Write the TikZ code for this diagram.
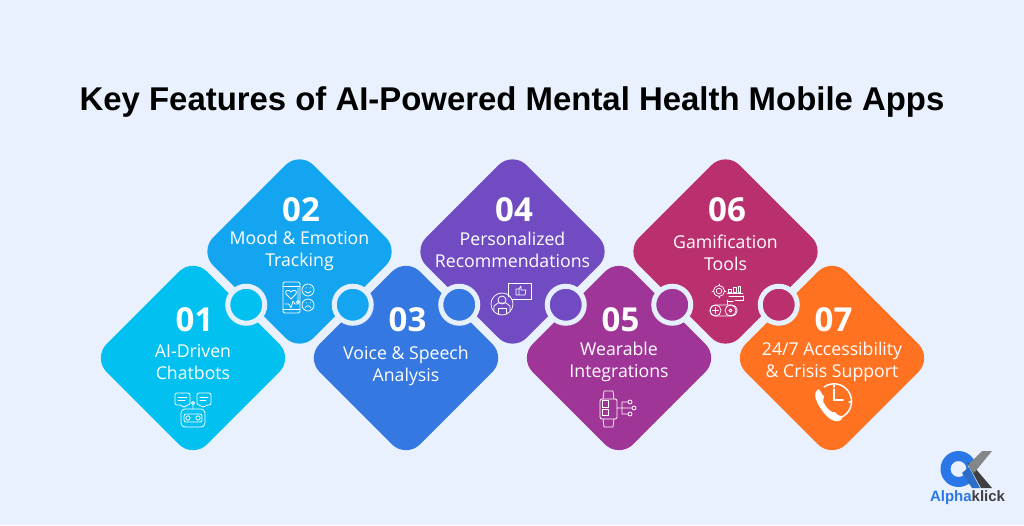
\documentclass[tikz,border=0pt]{standalone}
\usepackage{fontspec}
\setmainfont{Open Sans}
\newfontfamily\titlefont{Liberation Sans}
\usetikzlibrary{positioning, shapes.geometric}
\definecolor{pagebg}{HTML}{E9F1FE}
\definecolor{ringcol}{HTML}{E6EFFC}
\definecolor{cone}{HTML}{02C1F0}
\definecolor{ctwo}{HTML}{14A5F1}
\definecolor{cthree}{HTML}{3678E2}
\definecolor{cfour}{HTML}{704BC2}
\definecolor{cfive}{HTML}{A03598}
\definecolor{csix}{HTML}{BA2F6E}
\definecolor{cseven}{HTML}{FF7222}
\definecolor{logoblue}{HTML}{2A78E8}
\definecolor{logodark}{HTML}{3F4042}
\definecolor{logogray}{HTML}{858688}

\begin{document}
\begin{tikzpicture}[
        x=1pt, y=1pt,
        on grid,
        node distance = 106.5pt and 106.5pt,
        tile/.style = {diamond, aspect=1, inner sep=0pt, minimum width=201pt, minimum height=201pt, rounded corners=20pt},
        ring/.style = {circle, inner sep=0pt, minimum size=37pt, draw=ringcol, line width=5pt},
        num/.style = {text=white, xshift=1.5pt, font=\fontsize{33}{33}\selectfont\bfseries},
        lbl/.style = {text=white, align=center, font=\fontsize{17.7}{22}\selectfont},
        icon/.style = {draw=white, line width=.75pt, line join=round, line cap=round}
    ]
        \useasboundingbox (0,0) rectangle (1024,525);
        \fill[pagebg] (0,0) rectangle (1024,525);

        % Title
        \node[font=\titlefont\fontsize{32.9}{36}\selectfont\bfseries] (title) at (512,423) {Key Features of AI-Powered Mental Health Mobile Apps};

        % Tiles
        \node[tile, fill=cone] (d1) at (193,167) {};
        \node[tile, fill=ctwo, above right=of d1] (d2) {};
        \node[tile, fill=cthree, below right=of d2] (d3) {};
        \node[tile, fill=cfour, above right=of d3] (d4) {};
        \node[tile, fill=cfive, below right=of d4] (d5) {};
        \node[tile, fill=csix, above right=of d5] (d6) {};
        \node[tile, fill=cseven, below right=of d6] (d7) {};

        % Rings
        \node[ring, fill=cone, above right=53.25pt and 53.25pt of d1] (r1) {};
        \node[ring, fill=ctwo, below right=53.25pt and 53.25pt of d2] (r2) {};
        \node[ring, fill=cthree, above right=53.25pt and 53.25pt of d3] (r3) {};
        \node[ring, fill=cfour, below right=53.25pt and 53.25pt of d4] (r4) {};
        \node[ring, fill=cfive, above right=53.25pt and 53.25pt of d5] (r5) {};
        \node[ring, fill=csix, below right=53.25pt and 53.25pt of d6] (r6) {};

        % Numbers
        \node[num, above=38.5pt of d1] (n1) {01};
        \node[num, above=41.5pt of d2] (n2) {02};
        \node[num, above=38.5pt of d3] (n3) {03};
        \node[num, above=41.5pt of d4] (n4) {04};
        \node[num, above=38.5pt of d5] (n5) {05};
        \node[num, above=41.5pt of d6] (n6) {06};
        \node[num, above=38.5pt of d7] (n7) {07};

        % Labels
        \node[lbl, below=4pt of d1] (l1) {AI-Driven\\Chatbots};
        \node[lbl, above=1pt of d2] (l2) {Mood \& Emotion\\Tracking};
        \node[lbl, below=8pt of d3] (l3) {Voice \& Speech\\Analysis};
        \node[lbl, above=2pt of d4] (l4) {Personalized\\Recommendations};
        \node[lbl, below=3.5pt of d5] (l5) {Wearable\\Integrations};
        \node[lbl, below=1pt of d6] (l6) {Gamification\\Tools};
        \node[lbl, below=3.5pt of d7] (l7) {24/7 Accessibility\\\& Crisis Support};

        % Chatbot icon
        \begin{scope}[shift={(193,112)}, icon]
            \draw[rounded corners=4pt] (-12,-14) rectangle (12,4);
            \draw (-5,-5) circle (2.2) (5,-5) circle (2.2);
            \draw[rounded corners=2pt] (-9,-9) rectangle (9,-1);
            \draw (0,4) -- (0,8.5) (0,10) circle (1.5);
            \draw[rounded corners=2pt] (-18,8) -- (-18,20) -- (-3,20) -- (-3,8) -- (-7,8) -- (-9,5) -- (-11,8) -- cycle;
            \draw[rounded corners=2pt] (4,8) -- (4,20) -- (18,20) -- (18,8) -- (13,8) -- (10,5) -- (8,8) -- cycle;
            \draw (-15,16) -- (-6,16) (-15,12.5) -- (-8,12.5) (7,16) -- (15,16) (7,12.5) -- (13,12.5);
        \end{scope}

        % Mood icon
        \begin{scope}[shift={(299,228)}, icon]
            \draw[rounded corners=1.5pt] (-16,-16) rectangle (1,15);
            \draw (-16,11) -- (1,11) (-16,-12) -- (1,-12);
            \draw (-8,-2) -- (-13,3) .. controls (-15,7) and (-10,8) .. (-8,5) .. controls (-6,8) and (-1,7) .. (-3,3) -- cycle;
            \draw (-14,-7) -- (-10,-7) -- (-8,-11) -- (-6,-4) -- (-4,-7) -- (0,-7);
            \draw (-1,9) -- (-1,-3) (-1,-5) circle (1.5);
            \draw (9,7) circle (6) (9,-8) circle (6);
            \draw (6,5.5) .. controls (8,3.5) and (10,3.5) .. (12,5.5);
            \draw (6,-11) .. controls (8,-8) and (10,-8) .. (12,-11);
            \draw (7,9) -- (7,9.2) (11,9) -- (11,9.2) (7,-6) -- (7,-5.8) (11,-6) -- (11,-5.8);
        \end{scope}

        % Person and thumb icon
        \begin{scope}[shift={(512,224)}, icon]
            \draw (-10,-3) circle (11);
            \draw (-10,1) circle (4);
            \draw (-18,-10) -- (-18,-5) -- (-14,-2) -- (-6,-2) -- (-2,-5) -- (-2,-10);
            \draw (-14,-13) -- (-14,-7) -- (-6,-7) -- (-6,-13);
            \draw (-4,4) -- (-4,18) -- (19,18) -- (19,2) -- (0,2);
            \draw (4,6) rectangle (7,12) (7,6) -- (13,6) -- (14,11) -- (9,11) -- (9,15) -- (7,12);
        \end{scope}

        % Watch icon
        \begin{scope}[shift={(618,116)}, icon]
            \draw[rounded corners=2pt] (-18,-10) rectangle (-1,10);
            \draw (-15,10) -- (-14,18) -- (-5,18) -- (-4,10);
            \draw (-15,-10) -- (-14,-18) -- (-5,-18) -- (-4,-10);
            \draw (-16,2) rectangle (-10,9) (-16,-6) rectangle (-10,0);
            \draw (-1,1) -- (14,1) (16,1) circle (2);
            \draw (4,-5) -- (4,7) -- (10,7) (12,7) circle (2);
            \draw (4,-5) -- (10,-5) (12,-5) circle (2);
        \end{scope}

        % Game icon
        \begin{scope}[shift={(722,225)}, icon]
            \draw (-3,9) circle (5.5) (-3,9) circle (2.8);
            \draw (-3,14.5) -- (-3,16) (-3,3.5) -- (-3,2) (-8.5,9) -- (-10,9) (2.5,9) -- (4,9);
            \draw (5,7) -- (21,7) (6,7.5) rectangle (9,11) (11,7.5) rectangle (14,13) (16,7.5) rectangle (18,14);
            \draw (7,4) -- (21,4) (13,0) -- (21,0) -- (21,4) (5,0) -- (5,-5) (5,-1) -- (11,-1);
            \draw[rounded corners=5pt] (-12,-16) rectangle (15,-5);
            \draw (-6.5,-10.5) circle (5.5) (8.5,-10.5) circle (5.5) (-6.5,-7.5) -- (-6.5,-13.5) (-9.5,-10.5) -- (-3.5,-10.5);
            \draw (8.5,-10.5) circle (1.5);
        \end{scope}

        % Phone and clock icon
        \begin{scope}[shift={(832,123)}]
            \draw[white, line width=1.5pt] (-8,15) arc (125:-100:17.5);
            \draw[white, line width=1.5pt, line cap=round] (2,13) -- (2,2) -- (11,2) (2,17) -- (2,15) (19,0) -- (17,0);
            \fill[white] (-14,13) .. controls (-11,12) and (-10,6) .. (-8,6) .. controls (-9,2) and (-9,-1) .. (-8,-1) .. controls (-4,-9) and (1,-11) .. (3,-10) .. controls (4,-12) and (7,-14) .. (8,-14) .. controls (11,-13) and (11,-15) .. (9,-18) .. controls (3,-22) and (-5,-16) .. (-11,-7) .. controls (-17,2) and (-19,9) .. (-14,13) -- cycle;
        \end{scope}

        % Logo
        \fill[logoblue, even odd rule] (958.5,56) circle (18) (958.5,56) circle (8);
        \fill[pagebg] (968,58) -- (984,76) -- (976,40) -- cycle;
        \fill[logoblue!80!logodark] (962,52) -- (969,58) -- (980,37) -- (972,37) -- cycle;
        \fill[logodark] (967,63) -- (975,57) -- (992,37) -- (981,37) -- cycle;
        \fill[logogray] (982,74) -- (992,74) -- (974,52) -- (968,60) -- cycle;
        \node[inner sep=0pt, font=\titlefont\fontsize{15}{15}\selectfont\bfseries] (logotext) at (967.5,27) {\textcolor{logoblue}{Alpha}\textcolor{logodark}{klick}};
    \end{tikzpicture}
\end{document}
